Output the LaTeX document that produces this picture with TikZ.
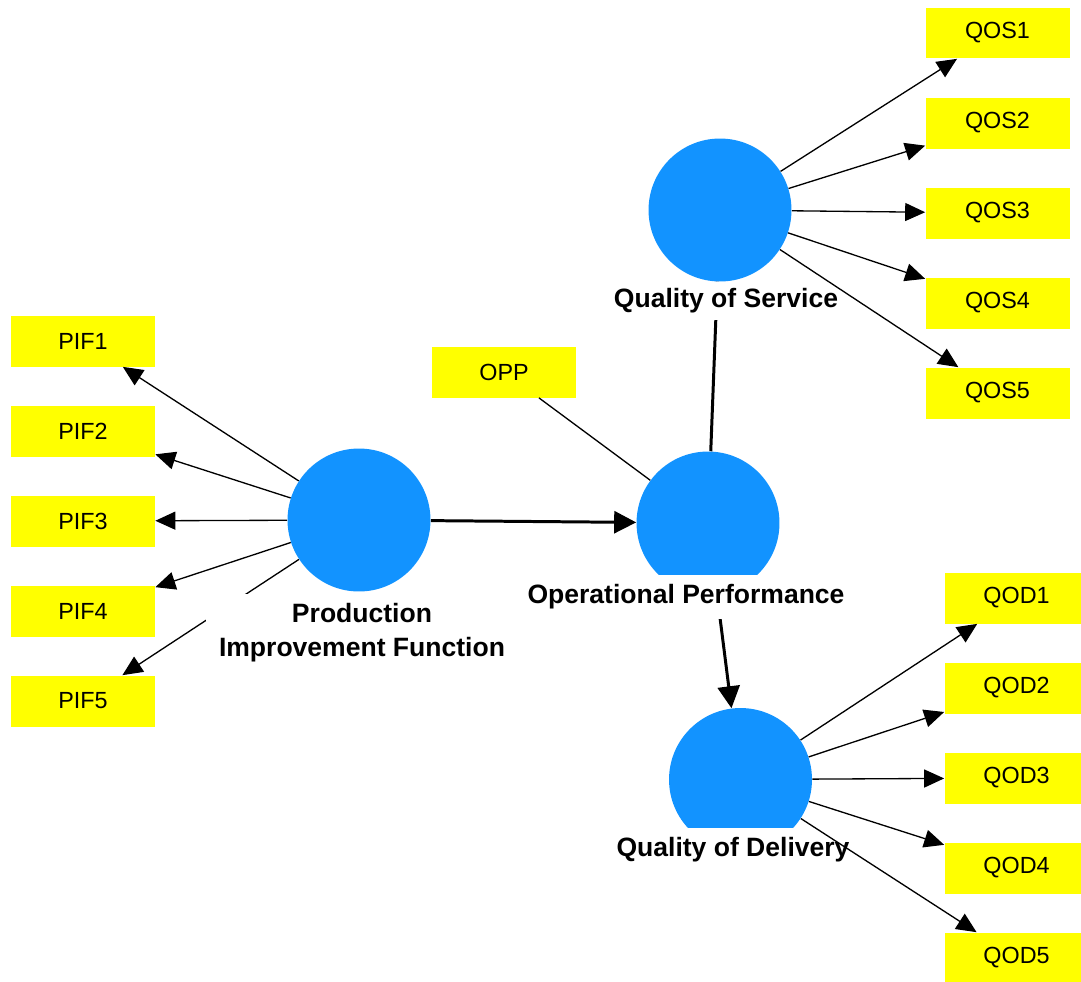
\documentclass[tikz,border=0pt]{standalone}
\usepackage{fontspec}
\setmainfont{Liberation Sans}
\usetikzlibrary{arrows.meta}
\definecolor{lvblue}{RGB}{18,147,255}
\definecolor{mvyellow}{RGB}{255,255,0}

\begin{document}
\begin{tikzpicture}[x=0.02cm,y=-0.02cm,latent/.style={circle, fill=lvblue, minimum size=2.86cm, inner sep=0pt},indicator/.style={fill=mvyellow, minimum width=2.88cm, minimum height=1.02cm, inner sep=0pt, font=\fontsize{13.3}{16}\selectfont},lvname/.style={fill=white, inner xsep=0.26cm, inner ysep=0.2cm, align=center, font=\bfseries\fontsize{15.1}{19.3}\selectfont},loading/.style={-{Triangle[length=0.4cm,width=0.36cm]}, line width=0.75pt},structural/.style={-{Triangle[length=0.44cm,width=0.44cm]}, line width=1.7pt},plainlink/.style={line width=0.75pt}]
\clip (0,0) rectangle (1081,981);
\node[latent] (pif) at (359,520) {}; \node[latent] (op) at (708,523) {};
\node[latent] (qos) at (720,210) {}; \node[latent] (qod) at (740.5,779.5) {};
\node[indicator] (pif1) at (83,341) {PIF1}; \node[indicator] (pif2) at (83,431) {PIF2}; \node[indicator] (pif3) at (83,521) {PIF3};
\node[indicator] (pif4) at (83,611) {PIF4}; \node[indicator] (pif5) at (83,701) {PIF5};
\node[indicator] (opp) at (504,372) {OPP};
\node[indicator] (qos1) at (997.5,33) {QOS1}; \node[indicator] (qos2) at (997.5,123) {QOS2}; \node[indicator] (qos3) at (997.5,213) {QOS3};
\node[indicator] (qos4) at (997.5,303) {QOS4}; \node[indicator] (qos5) at (997.5,393) {QOS5};
\node[indicator] (qod1) at (1016.5,598) {QOD1}; \node[indicator] (qod2) at (1016.5,688) {QOD2}; \node[indicator] (qod3) at (1016.5,778) {QOD3};
\node[indicator] (qod4) at (1016.5,868) {QOD4}; \node[indicator] (qod5) at (1016.5,958) {QOD5};
\draw[loading] (pif) -- (pif1); \draw[loading] (pif) -- (pif2); \draw[loading] (pif) -- (pif3); \draw[loading] (pif) -- (pif4); \draw[loading] (pif) -- (pif5);
\draw[structural] (pif) -- (op); \draw[plainlink] (opp) -- (op);
\draw[structural, -] (op) -- (qos); \draw[structural] (op) -- (qod);
\node[lvname] (pifname) at (362,633) {Production\\Improvement Function};
\node[lvname] (opname) at (686,597) {Operational Performance};
\node[lvname, inner ysep=0.14cm] (qosname) at (726,301) {Quality of Service};
\node[lvname] (qodname) at (733,850) {Quality of Delivery};
\draw[loading] (qos) -- (qos1); \draw[loading] (qos) -- (qos2); \draw[loading] (qos) -- (qos3); \draw[loading] (qos) -- (qos4); \draw[loading] (qos) -- (qos5);
\draw[loading] (qod) -- (qod1); \draw[loading] (qod) -- (qod2); \draw[loading] (qod) -- (qod3); \draw[loading] (qod) -- (qod4); \draw[loading] (qod) -- (qod5);
\end{tikzpicture}
\end{document}
